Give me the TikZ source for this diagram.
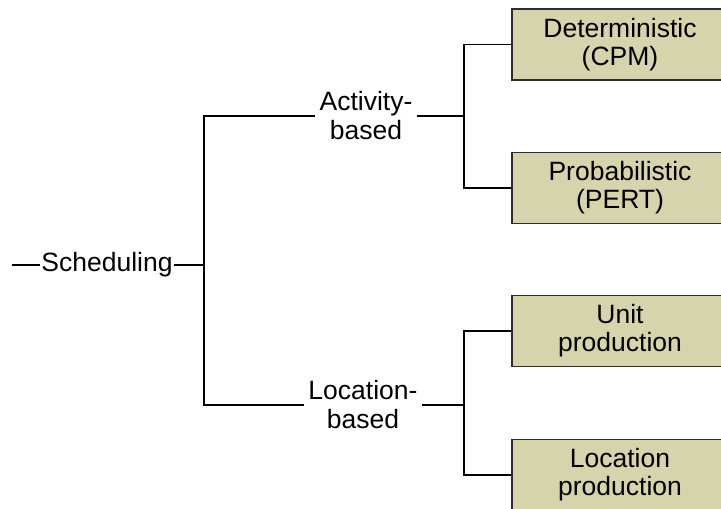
\documentclass[tikz,border=0pt]{standalone}
\usepackage{fontspec}
\setmainfont{Liberation Sans}
\definecolor{boxfill}{RGB}{214,212,172}
\definecolor{boxline}{RGB}{45,45,45}
\begin{document}
\begin{tikzpicture}[x=1pt,y=-1pt,
  wire/.style={line width=1.4pt, black},
  branch/.style={align=center, inner sep=4pt, font=\fontsize{26.5}{29}\selectfont},
  leaf/.style={draw=boxline, line width=1.6pt, fill=boxfill,
    minimum width=216pt, minimum height=71pt, inner sep=0pt,
    align=center, font=\fontsize{26.5}{28}\selectfont}]
\useasboundingbox (0,0) rectangle (721,509);
\clip (0,0) rectangle (721,509);

% root and its stub
\node[branch, inner sep=1.5pt] (root) at (107,265) {Scheduling};
\coordinate (stub) at (12,265);
\coordinate (j0) at (204,265);

% second level
\node[branch] (act) at (366,116) {Activity-\\based};
\node[branch] (loc) at (363,405) {Location-\\based};
\coordinate (ja) at (464,116);
\coordinate (jb) at (464,405);

% leaves
\node[leaf] (det)  at (620,44.5) {Deterministic\\(CPM)};
\node[leaf] (pert) at (620,188)  {Probabilistic\\(PERT)};
\node[leaf] (unit) at (620,331)  {Unit\\production};
\node[leaf] (locp) at (620,475)  {Location\\production};

% connectors
\draw[wire] (stub) -- (root.west);
\draw[wire] (root.east) -- (j0);
\draw[wire] (act.west) -| (j0) |- (loc.west);
\draw[wire] (act.east) -- (ja);
\draw[wire] (loc.east) -- (jb);
\draw[wire] (det.west) -| (ja) |- (pert.west);
\draw[wire] (unit.west) -| (jb) |- (locp.west);
\end{tikzpicture}
\end{document}
